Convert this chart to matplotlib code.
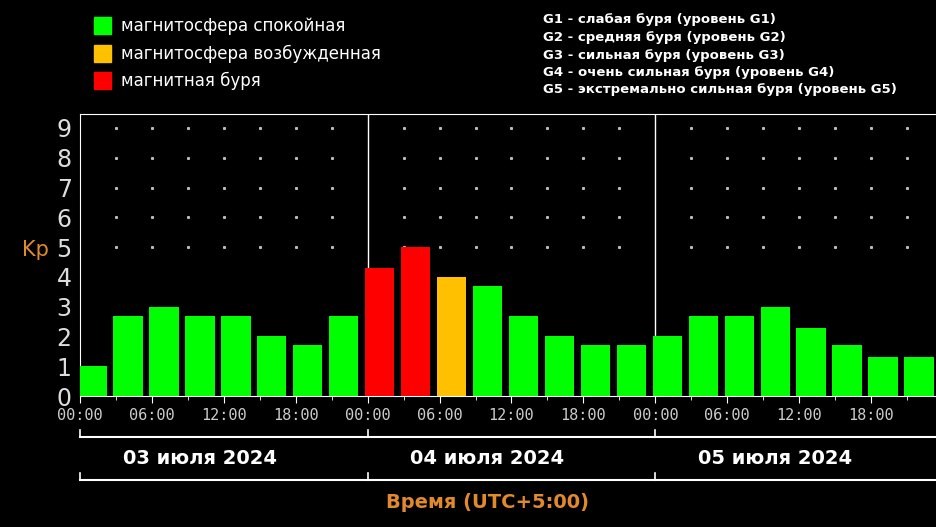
import matplotlib
matplotlib.use("Agg")
import matplotlib.pyplot as plt
from matplotlib.patches import Rectangle

kp = [1.0, 2.7, 3.0, 2.7, 2.7, 2.0, 1.7, 2.7,
      4.3, 5.0, 4.0, 3.7, 2.7, 2.0, 1.7, 1.7,
      2.0, 2.7, 2.7, 3.0, 2.3, 1.7, 1.3, 1.3, 2.0]
status = ["q"] * 8 + ["s", "s", "e"] + ["q"] * 14
days = ["03 июля 2024", "04 июля 2024", "05 июля 2024"]
time_labels = ["00:00", "06:00", "12:00", "18:00"]
legend_labels = ["магнитосфера спокойная", "магнитосфера возбужденная", "магнитная буря"]
g_labels = ["G1 - слабая буря (уровень G1)", "G2 - средняя буря (уровень G2)",
            "G3 - сильная буря (уровень G3)", "G4 - очень сильная буря (уровень G4)",
            "G5 - экстремально сильная буря (уровень G5)"]
colors = {"q": "#00ff00", "e": "#ffc000", "s": "#ff0000"}

fig = plt.figure(figsize=(9.37, 5.27), dpi=100, facecolor="black")
ax = fig.add_axes([80/937, 1-396/527, 1-80/937, (396-114)/527])
ax.set_facecolor("black")
xs = [1 + 3*i for i in range(len(kp))]
ax.bar(xs, kp, width=2.45, color=[colors[s] for s in status], zorder=3)
ax.set_xlim(0, 71.5)
ax.set_ylim(0, 9.47)
for s in ["left", "top", "bottom"]:
    ax.spines[s].set_color("white")
ax.spines["right"].set_visible(False)
for d in (24, 48):
    ax.axvline(d, color="white", lw=1, zorder=2)
for y in range(5, 10):
    for h in range(3, 72, 3):
        if h % 24:
            ax.plot(h, y, marker="s", ms=1.2, color="#bbbbbb", zorder=1)
ax.set_yticks(range(10))
ax.set_yticklabels([str(i) for i in range(10)], color="#dddddd", fontsize=17)
ax.tick_params(axis="y", length=0, pad=6)
ax.set_xticks(range(0, 72, 6))
ax.set_xticklabels(time_labels * 3, color="#cccccc", fontsize=11, family="DejaVu Sans Mono")
ax.set_xticks(range(3, 72, 6), minor=True)
ax.tick_params(axis="x", which="major", colors="white", length=5, pad=4)
ax.tick_params(axis="x", which="minor", colors="white", length=3)
for lbl in ax.get_xticklabels():
    lbl.set_color("#cccccc")
ax.text(-2.6, 4.9, "Kp", color="#e08a2c", fontsize=15, ha="right", va="center")

# date brackets
for i, d in enumerate(days):
    x0, x1 = 24*i, 24*(i+1)
    for yb in (437, 480):
        yf = 1 - yb/527
        ax.plot([x0, min(x1, 71.5)], [yf, yf], transform=ax.get_xaxis_transform() if False else
                matplotlib.transforms.blended_transform_factory(ax.transData, fig.transFigure),
                color="white", lw=1.5, clip_on=False)
    tr = matplotlib.transforms.blended_transform_factory(ax.transData, fig.transFigure)
    ax.plot([x0, x0], [1-430/527, 1-437/527], transform=tr, color="white", lw=1.2, clip_on=False)
    ax.plot([x0, x0], [1-473/527, 1-480/527], transform=tr, color="white", lw=1.2, clip_on=False)
    ax.text(x0 + 10, 1-458/527, d, transform=tr, color="white", fontsize=14,
            fontweight="bold", ha="center", va="center")
fig.text(0.52, 1-503/527, "Время (UTC+5:00)", color="#e08a2c", fontsize=14,
         fontweight="bold", ha="center", va="center")

# legend
for i, (lab, c) in enumerate(zip(legend_labels, ["#00ff00", "#ffc000", "#ff0000"])):
    y = 26 + 27.5*i
    fig.patches.append(Rectangle((94/937, 1-(y+8)/527), 17/937, 17/527,
                                 transform=fig.transFigure, color=c))
    fig.text(121/937, 1-y/527, lab, color="white", fontsize=12, va="center")
for i, lab in enumerate(g_labels):
    fig.text(543/937, 1-(20+17.5*i)/527, lab, color="white", fontsize=9.5,
             fontweight="bold", va="center")

fig.savefig("out.png", dpi=100, facecolor="black")
